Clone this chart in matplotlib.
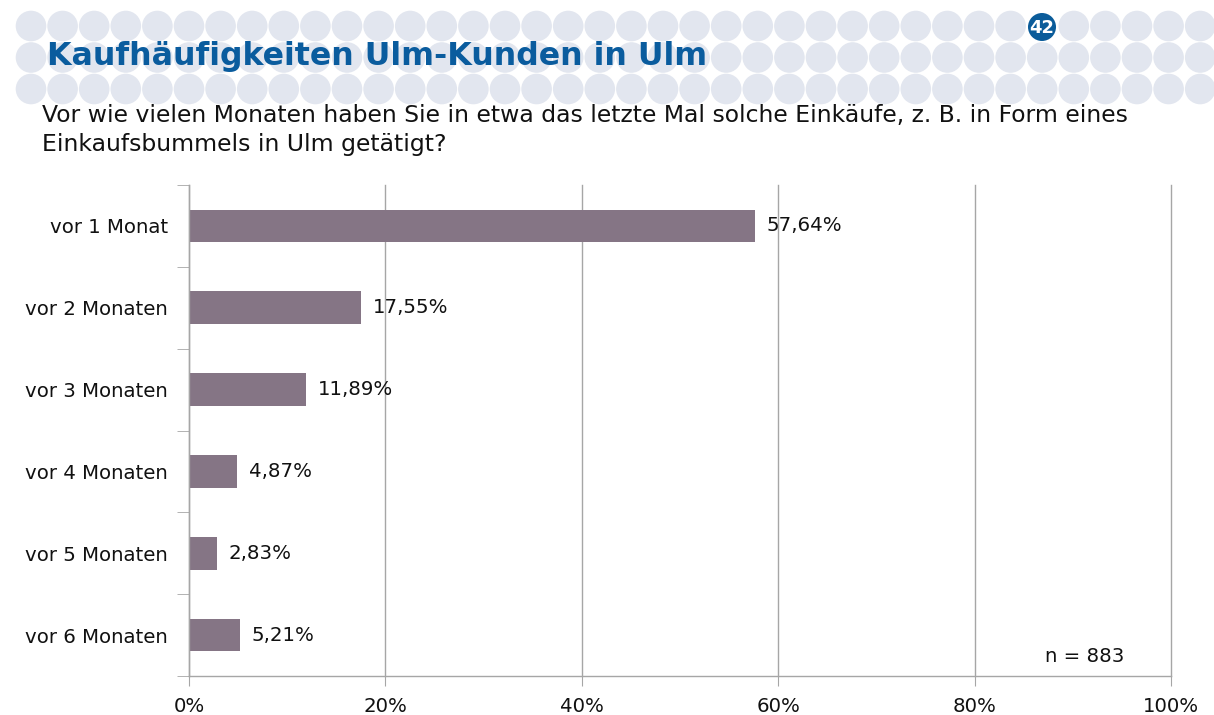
import matplotlib.pyplot as plt
from matplotlib.patches import Circle

# survey answers, top to bottom
categories = ["vor 1 Monat", "vor 2 Monaten", "vor 3 Monaten",
              "vor 4 Monaten", "vor 5 Monaten", "vor 6 Monaten"]
shares = [57.64, 17.55, 11.89, 4.87, 2.83, 5.21]
x_ticks = [0, 20, 40, 60, 80, 100]

title = "Kaufhäufigkeiten Ulm-Kunden in Ulm"
question = ("Vor wie vielen Monaten haben Sie in etwa das letzte Mal solche Einkäufe, z. B. in Form eines\n"
            "Einkaufsbummels in Ulm getätigt?")
n_note = "n = 883"
page_no = "42"

W, H = 1214, 715
fig = plt.figure(figsize=(W / 100, H / 100), dpi=100)
plt.rcParams['font.family'] = ['DejaVu Sans']

# header decoration in pixel coordinates
bg = fig.add_axes([0, 0, 1, 1], zorder=0)
bg.set_xlim(0, W)
bg.set_ylim(H, 0)
bg.axis('off')
for row in range(3):
    for col in range(38):
        cx = 31 + col * 31.6
        cy = 26 + row * 31.5
        if row == 0 and col == 32:
            continue
        bg.add_patch(Circle((cx, cy), 15.3, color='#e2e6ef', lw=0))
bg.add_patch(Circle((1042, 27), 14, color='#0b5c9a', lw=0))
bg.text(1042, 28, page_no, ha='center', va='center', color='white',
        fontsize=13, fontweight='bold')
bg.text(47, 56, title, ha='left', va='center', color='#0a5c9e',
        fontsize=22.8, fontweight='bold')
bg.text(42, 130, question, ha='left', va='center', color='#111111',
        fontsize=16.9, linespacing=1.32)

# chart
ax = fig.add_axes([189 / W, 39 / H, 982 / W, 491 / H], zorder=1)
ax.patch.set_alpha(0)
y = list(range(len(categories)))
ax.barh(y, shares, height=0.4, color='#857585')
for yi, v in zip(y, shares):
    ax.text(v + 1.2, yi, f"{v:.2f}%".replace('.', ','), va='center',
            ha='left', fontsize=14.2, color='#111111')

ax.set_xlim(0, 100)
ax.set_ylim(len(categories) - 0.5, -0.5)
ax.set_xticks(x_ticks)
ax.set_xticklabels([f"{t}%" for t in x_ticks], fontsize=14.2, color='#111111')
ax.set_yticks(y)
ax.set_yticklabels(categories, fontsize=14.2, color='#111111')
ax.set_yticks([i - 0.5 for i in range(len(categories) + 1)], minor=True)
ax.tick_params(axis='y', which='major', length=0, pad=15)
ax.tick_params(axis='y', which='minor', length=9, color='#a6a6a6', direction='out')
ax.tick_params(axis='x', length=7, color='#a6a6a6', direction='out', pad=8)
ax.grid(axis='x', color='#a6a6a6', lw=1.0)
for gl in ax.get_xgridlines():
    gl.set_clip_on(False)
ax.set_axisbelow(True)
for s in ['top', 'right']:
    ax.spines[s].set_visible(False)
for s in ['left', 'bottom']:
    ax.spines[s].set_color('#a6a6a6')
    ax.spines[s].set_linewidth(1.0)

ax.text(95.3, 5.26, n_note, ha='right', va='center', fontsize=14.2, color='#111111')

fig.savefig("out.png", dpi=100)
